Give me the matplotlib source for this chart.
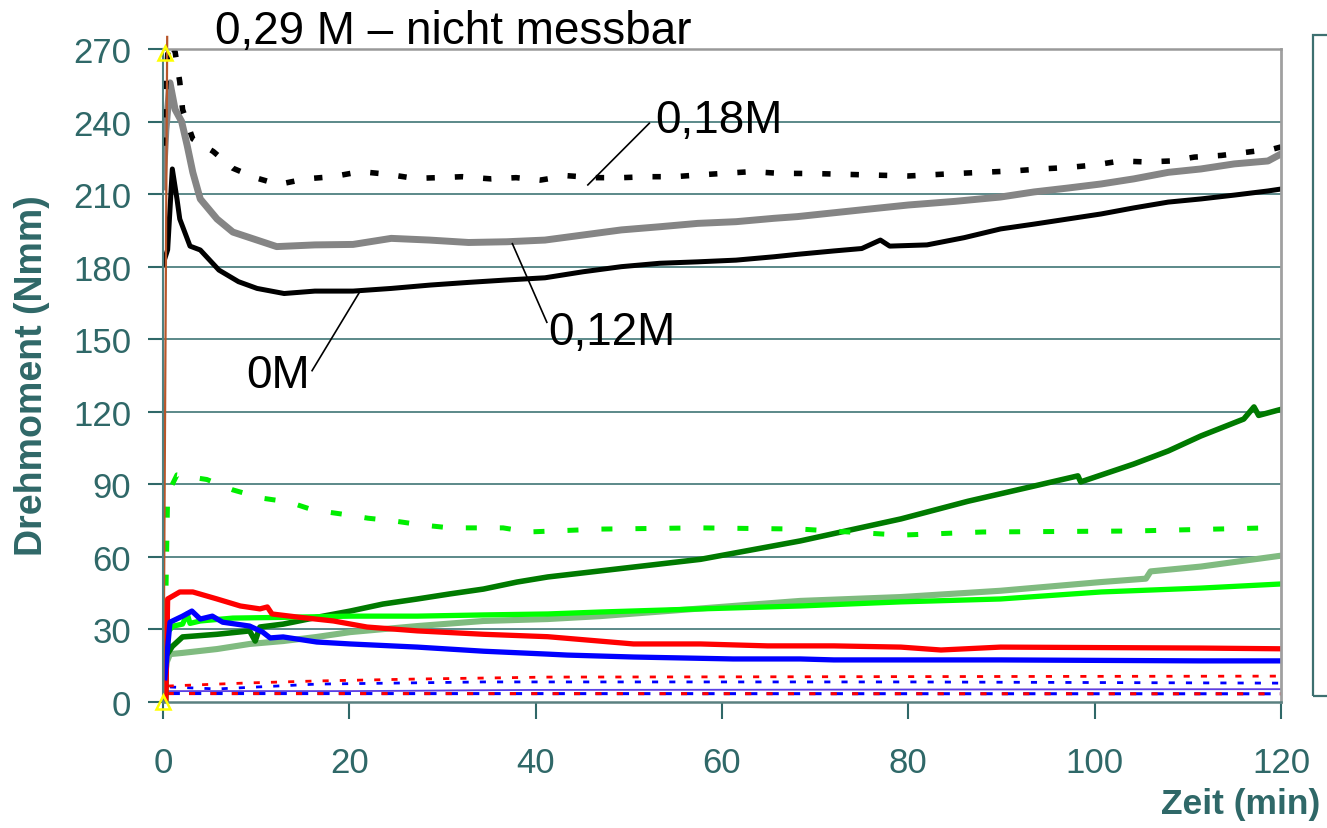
import matplotlib.pyplot as plt
from matplotlib.patches import Rectangle

plt.rcParams['font.family'] = ['Liberation Sans', 'DejaVu Sans']

TEAL = '#2f6868'

# Drehmoment (Nmm) über Zeit (min)
t_0m = [0.0, 0.5, 1.0, 1.5, 1.8, 2.9, 4.0, 6.0, 8.1, 10.1, 13.0, 16.3, 20.4, 24.5, 28.7,
        32.8, 36.9, 41.0, 45.1, 49.2, 53.3, 57.4, 61.5, 65.6, 68.1, 72.0, 75.0, 77.0,
        78.0, 82.0, 86.0, 89.9, 93.5, 97.1, 100.7, 104.2, 107.9, 111.4, 115.0, 118.6, 120.0]
tq_0m = [181, 187, 220.4, 208, 199.7, 188.5, 186.9, 178.6, 173.8, 171, 168.9, 169.9, 169.9,
         171, 172.4, 173.5, 174.5, 175.4, 177.9, 180, 181.4, 182, 182.7, 184.1, 185.1, 186.5,
         187.5, 191, 188.5, 189, 192, 195.6, 197.6, 199.7, 201.8, 204.3, 206.7, 208, 209.6,
         211.3, 212.1]

t_012m = [0.0, 0.3, 0.75, 1.3, 2.0, 2.6, 3.2, 4.0, 5.8, 7.5, 12.2, 16.3, 20.4, 24.5, 28.6,
          32.8, 36.9, 41.0, 45.1, 49.2, 53.3, 57.4, 61.5, 65.6, 68.1, 75.0, 80.0, 85.0, 89.9,
          93.5, 97.1, 100.7, 104.2, 107.9, 111.4, 115.0, 118.6, 120.0]
tq_012m = [213, 236, 256, 245, 240, 230, 219, 208, 199.7, 194.3, 188.3, 189, 189.2, 191.7,
           191, 190, 190.3, 191, 193.1, 195.2, 196.5, 197.9, 198.6, 200, 200.7, 203.5, 205.5,
           207, 208.8, 210.9, 212.5, 214.2, 216.3, 219, 220.4, 222.5, 223.7, 226.6]

t_018m = [0.0, 0.3, 0.6, 1.3, 1.8, 2.1, 3.2, 5.4, 7.5, 9.9, 12.4, 15.3, 18.2, 21.2, 24.1, 27.0,
          29.5, 32.1, 35.2, 37.9, 40.5, 43.4, 46.3, 49.2, 52.1, 54.9, 57.4, 60.3, 63.2, 66.1,
          70.0, 75.0, 80.0, 85.0, 91.3, 94.2, 97.1, 99.9, 102.8, 105.5, 108.2, 110.7, 113.6,
          116.5, 119.2, 120.0]
tq_018m = [230, 255, 273, 268.8, 256.4, 245, 232.8, 227.6, 220.7, 216.8, 214, 216.3, 217.2,
           219.3, 218.2, 216.5, 216.8, 217.2, 216.3, 216.8, 215.8, 217.6, 216.8, 216.8, 217.2,
           217.2, 217.9, 218.6, 219.3, 218.6, 218.5, 218, 217.5, 218.5, 219.6, 220.4, 221,
           222, 223.7, 223.3, 223.7, 225.3, 226, 227.4, 228.7, 229.5]

t_dkgreen = [0.3, 0.4, 0.5, 1.0, 2.1, 5.8, 9.3, 9.9, 10.4, 12.9, 16.5, 20.1, 23.6, 27.3,
             30.8, 34.4, 38.0, 41.3, 57.7, 68.4, 79.2, 86.4, 93.5, 98.2, 98.5, 104.2, 107.9,
             111.4, 116.0, 117.1, 117.6, 120.0]
tq_dkgreen = [0, 40, 20, 23, 26.9, 28, 29.4, 25.2, 31, 32.2, 35, 37.6, 40.5, 42.6, 44.7,
              46.7, 49.6, 51.7, 59, 66.6, 75.7, 83, 89.3, 93.5, 91, 98.4, 103.8, 110, 117,
              122, 118.5, 121]

t_lime_dash = [0.2, 0.5, 1.5, 4.7, 7.5, 10.6, 13.5, 16.1, 19.2, 22.0, 24.9, 27.8, 30.8, 33.5,
               36.5, 39.2, 47.0, 57.7, 68.4, 79.2, 88.0, 104.0, 118.6, 120.0]
tq_lime_dash = [20, 86, 93.9, 92, 87.7, 84.3, 82.7, 79.4, 77.7, 76, 74.8, 73.2, 72, 72, 72,
                70.3, 71.5, 72, 71.5, 69, 70.3, 70.7, 72, 72]

t_lime = [0.2, 0.5, 1.1, 2.1, 2.6, 2.9, 4.0, 7.5, 12.9, 20.1, 27.3, 34.4, 41.3, 46.9, 57.7,
          68.4, 79.2, 89.9, 100.7, 111.4, 120.0]
tq_lime = [10, 29, 31.4, 32.2, 36.4, 32.5, 33.5, 34.7, 35, 35.5, 35.5, 36, 36.4, 37.2, 38.5,
           39.7, 41.4, 42.6, 45.5, 47.1, 48.8]

t_sage = [0.2, 0.4, 0.75, 2.1, 5.8, 9.3, 12.9, 16.5, 20.1, 27.3, 34.4, 41.3, 46.9, 61.2, 68.4,
          79.2, 89.9, 100.7, 105.5, 106.0, 111.4, 120.0]
tq_sage = [10, 16.5, 19.8, 20.3, 21.9, 24, 25.2, 26.9, 28.9, 31.4, 33.5, 34.3, 35.5, 39.7,
           41.8, 43.4, 46, 49.6, 51, 54, 56, 60.5]

t_red = [0.3, 0.5, 1.8, 3.2, 5.8, 8.3, 10.4, 11.2, 11.7, 14.7, 18.3, 21.9, 27.3, 34.4, 41.3,
         50.5, 57.7, 64.9, 72.0, 79.2, 83.5, 89.9, 100.7, 111.4, 120.0]
tq_red = [0, 42.6, 45.5, 45.5, 42.6, 39.7, 38.5, 39.3, 36.4, 35, 33.5, 31, 29.4, 28, 27, 24,
          24, 23.2, 23.2, 22.7, 21.5, 22.7, 22.5, 22.3, 22]

t_blue = [0.2, 0.75, 2.1, 3.1, 4.0, 5.3, 6.4, 9.3, 10.7, 11.5, 12.9, 16.5, 20.1, 27.3, 34.4,
          41.3, 43.4, 50.5, 61.2, 68.4, 72.0, 89.9, 111.4, 120.0]
tq_blue = [10, 33, 35.5, 37.6, 34.3, 35.5, 33, 31.4, 28.9, 26.5, 26.9, 24.8, 24, 22.7, 21,
           19.8, 19.4, 18.6, 17.8, 17.8, 17.4, 17.4, 17, 17]

t_red_dot = [0.5, 5.8, 9.3, 12.9, 16.5, 27.3, 41.3, 120.0]
tq_red_dot = [6.6, 7.4, 7.9, 8.3, 8.7, 9.5, 10.3, 10.7]

t_blue_dot = [0.75, 5.8, 16.5, 34.4, 80.0, 120.0]
tq_blue_dot = [6.2, 5.4, 7.4, 8.3, 8.3, 7.8]

t_thin = [0.5, 20.0, 40.0, 120.0]
tq_thin = [4.5, 4.5, 5.0, 5.3]

t_long_dash = [0.5, 120.0]
tq_long_dash = [3.5, 3.4]

# 0,29 M: Messung bricht sofort ab
t_029m = [0.05, 0.45]
tq_029m = [0, 275]
t_029m_marks = [0.0, 0.2]
tq_029m_marks = [0, 268.5]

fig = plt.figure(figsize=(13.27, 8.29), dpi=100)
ax = fig.add_axes([163 / 1327, 1 - 703 / 829, (1281 - 163) / 1327, (703 - 50) / 829])

yticks = list(range(0, 271, 30))
ax.hlines(yticks[1:-1], 0, 120, color='#4e8080', lw=1.3, zorder=0)

ax.plot(t_long_dash, tq_long_dash, color='#0000ff', lw=2.2, dashes=(4, 3))
ax.plot(t_long_dash, tq_long_dash, color='#ff0000', lw=2.2, dashes=(2, 5))
ax.plot(t_thin, tq_thin, color='#ff4040', lw=1.0, alpha=0.7)
ax.plot(t_thin, tq_thin, color='#3030ff', lw=1.3, alpha=0.8)
ax.plot(t_blue_dot, tq_blue_dot, color='#0000ff', lw=2.0, dashes=(2.2, 4.0))
ax.plot(t_red_dot, tq_red_dot, color='#ff0000', lw=2.0, dashes=(2.2, 4.0))

ax.plot(t_sage, tq_sage, color='#80bb80', lw=4.4)
ax.plot(t_dkgreen, tq_dkgreen, color='#007a00', lw=4.0)
ax.plot(t_lime, tq_lime, color='#00ff00', lw=3.8)
ax.plot(t_lime_dash, tq_lime_dash, color='#00ee00', lw=3.6, dashes=(2.2, 4.6))
ax.plot(t_red, tq_red, color='#ff0000', lw=3.8)
ax.plot(t_blue, tq_blue, color='#0000ff', lw=3.8)

ax.plot(t_012m, tq_012m, color='#858585', lw=5.0)
ax.plot(t_0m, tq_0m, color='#000000', lw=3.6)
ax.plot(t_018m, tq_018m, color='#000000', lw=4.0, dashes=(1.5, 3.6))

ax.plot(t_029m, tq_029m, color='#b8562a', lw=1.6, clip_on=False)
ax.plot(t_029m_marks, tq_029m_marks, ls='none', marker='^', ms=10, mfc='none',
        mec='#ffff00', mew=1.8, clip_on=False, zorder=5)

# Beschriftungen der Kurven
ax.plot([16.0, 21.1], [137, 169.5], color='black', lw=1.2)
ax.text(15.8, 135, '0M', ha='right', va='center', fontsize=33)
ax.plot([37.5, 41.2], [189.5, 157], color='black', lw=1.2)
ax.text(41.4, 153, '0,12M', ha='left', va='center', fontsize=33)
ax.plot([45.6, 52.2], [213.8, 239.3], color='black', lw=1.2)
ax.text(52.8, 240.7, '0,18M', ha='left', va='center', fontsize=33)
ax.text(5.6, 277.5, '0,29 M – nicht messbar', ha='left', va='center', fontsize=33,
        clip_on=False)

ax.set_xlim(0, 120)
ax.set_ylim(0, 270)
ax.set_xticks(range(0, 121, 20))
ax.set_yticks(yticks)
ax.tick_params(axis='both', direction='out', colors=TEAL, labelsize=25, width=1.5)
ax.tick_params(axis='x', length=12, pad=20)
ax.tick_params(axis='y', length=11, pad=12)

ax.spines['left'].set_color('#4e8080')
ax.spines['bottom'].set_color('#5a8080')
ax.spines['left'].set_linewidth(1.5)
ax.spines['bottom'].set_linewidth(1.8)
ax.spines['top'].set_color('#999999')
ax.spines['right'].set_color('#a0a0a0')
ax.spines['top'].set_linewidth(1.8)
ax.spines['right'].set_linewidth(2.0)

fig.text(32 / 1327, 1 - 376 / 829, 'Drehmoment (Nmm)', rotation=90, ha='center',
         va='center', fontsize=27, fontweight='bold', color=TEAL)
fig.text(1320 / 1327, 1 - 805 / 829, 'Zeit (min)', ha='right', va='center',
         fontsize=25.5, fontweight='bold', color=TEAL)

# leerer Legendenrahmen am rechten Rand
fig.add_artist(Rectangle((1313 / 1327, 1 - 697 / 829), 0.05, (697 - 36) / 829,
                         transform=fig.transFigure, fill=False, edgecolor='#3d7070',
                         lw=1.6, clip_on=False))

fig.savefig('out.png', dpi=100)
